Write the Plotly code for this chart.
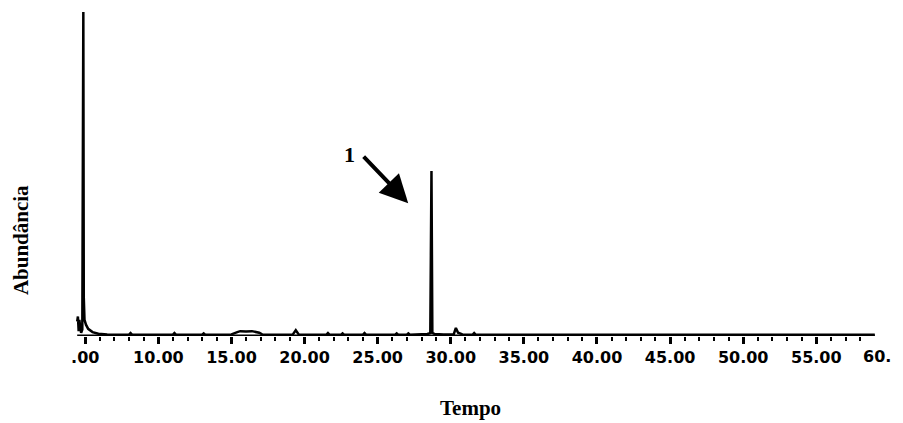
import plotly.graph_objects as go

# ---- data ----
tempo = [4.45, 4.50, 4.55, 4.60, 4.65, 4.72, 4.80, 4.84, 4.87, 4.90, 4.95, 5.05, 5.20, 5.50,
         5.90, 6.50, 7.20, 8.00, 8.10, 8.20, 9.50, 11.00, 11.10, 11.20, 12.50, 13.00, 13.10,
         13.20, 14.20, 15.00, 15.40, 15.60, 16.00, 16.40, 16.90, 17.10, 18.00, 19.20, 19.40,
         19.60, 20.50, 21.50, 21.60, 21.70, 22.50, 22.60, 22.70, 23.50, 24.00, 24.10, 24.20,
         25.50, 26.20, 26.30, 26.40, 27.00, 27.10, 27.20, 27.80, 28.40, 28.60, 28.64, 28.68,
         28.74, 28.90, 29.50, 30.20, 30.35, 30.50, 30.80, 31.50, 31.60, 31.70, 32.50, 34.00,
         36.00, 40.00, 45.00, 50.00, 55.00, 59.00]
abundancia = [4.5, 6.0, 1.5, 5.0, 3.0, 1.0, 2.0, 100.0, 100.0, 12.0, 5.0, 3.5, 2.2, 1.2,
              0.7, 0.5, 0.4, 0.4, 0.9, 0.4, 0.4, 0.4, 0.9, 0.4, 0.4, 0.4, 0.8,
              0.4, 0.4, 0.5, 1.2, 1.5, 1.4, 1.5, 1.0, 0.5, 0.4, 0.5, 1.8,
              0.5, 0.4, 0.4, 0.9, 0.4, 0.4, 0.8, 0.4, 0.4, 0.4, 0.9, 0.4,
              0.4, 0.4, 0.8, 0.4, 0.4, 0.8, 0.4, 0.5, 0.6, 0.9, 50.9, 50.9,
              1.0, 0.6, 0.5, 0.5, 2.5, 1.0, 0.5, 0.4, 0.9, 0.4, 0.4, 0.4,
              0.4, 0.4, 0.4, 0.4, 0.4, 0.4]

tick_vals = [5, 10, 15, 20, 25, 30, 35, 40, 45, 50, 55]
tick_text = [".00", "10.00", "15.00", "20.00", "25.00", "30.00", "35.00",
             "40.00", "45.00", "50.00", "55.00"]
extra_label_val = 60
extra_label_text = "60."
minor_vals = [v for v in range(5, 59)]
axis_start, axis_end = 4.45, 59.0

peak_label = "1"

fig = go.Figure()
fig.add_trace(go.Scatter(x=tempo, y=abundancia, mode="lines",
                         line=dict(color="black", width=2.5), hoverinfo="skip",
                         showlegend=False))

tickfont = dict(family="DejaVu Sans", size=16, color="black", weight="bold")
fig.update_xaxes(range=[4.3, 60.93], showline=False, showgrid=False, zeroline=False,
                 tickmode="array", tickvals=tick_vals, ticktext=tick_text,
                 ticks="outside", ticklen=7, tickwidth=2.5, tickcolor="black",
                 tickfont=tickfont,
                 minor=dict(tickvals=minor_vals, ticks="outside", ticklen=4,
                            tickwidth=2, tickcolor="black"))
fig.update_yaxes(range=[0, 100], visible=False)

# axis baseline (ends before 60 as in the reference)
fig.add_shape(type="line", xref="x", yref="y", x0=axis_start, x1=axis_end, y0=0, y1=0,
              line=dict(color="black", width=3))

serif = dict(family="Liberation Serif", size=21, color="black", weight="bold")
fig.add_annotation(x=extra_label_val, y=0, xref="x", yref="y", text=extra_label_text,
                   showarrow=False, xanchor="left", xshift=-28, yanchor="top",
                   yshift=-9, font=tickfont)
fig.add_annotation(x=-0.0652, y=0.296, xref="paper", yref="paper", text="Abundância",
                   textangle=-90, showarrow=False, xanchor="center", yanchor="middle",
                   font=serif)
fig.add_annotation(x=0.478, y=-0.222, xref="paper", yref="paper", text="Tempo",
                   showarrow=False, xanchor="center", yanchor="middle", font=serif)
# arrow pointing to peak 1
fig.add_annotation(x=27.09, y=41.0, xref="x", yref="y", text="", showarrow=True,
                   ax=-46, ay=-48, arrowhead=2, arrowsize=1.4, arrowwidth=4,
                   arrowcolor="black")
fig.add_annotation(x=23.1, y=56.0, xref="x", yref="y", text=peak_label,
                   showarrow=False, font=dict(family="Liberation Serif", size=22,
                                              color="black", weight="bold"))

# page body adds an 8px offset, so margins are reduced by 8px on top/left
fig.update_layout(width=903, height=423, margin=dict(l=67, r=8, t=4, b=95),
                  paper_bgcolor="white", plot_bgcolor="white")
fig.write_html("out.html")
